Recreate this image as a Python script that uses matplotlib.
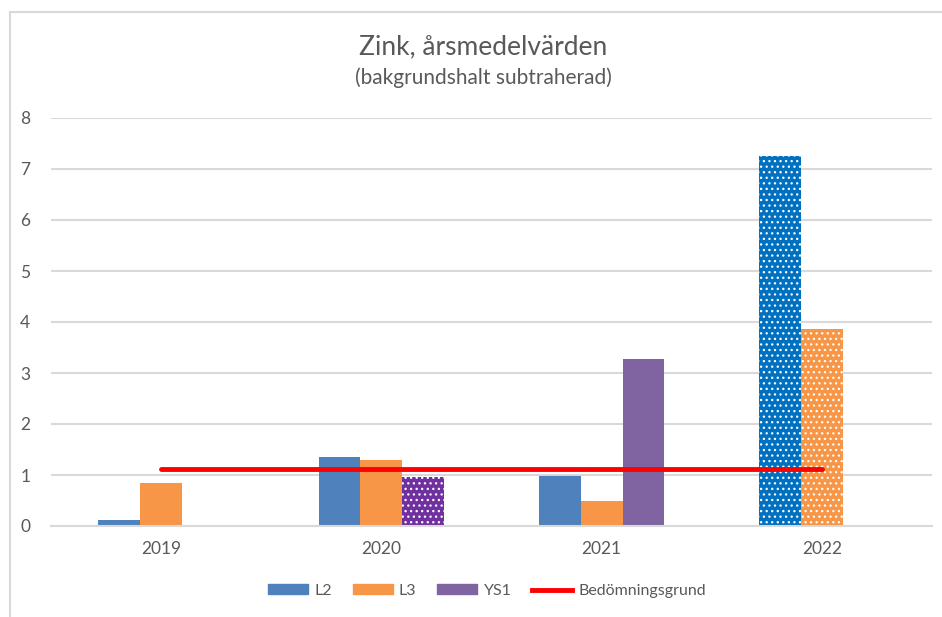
import numpy as np
import matplotlib.pyplot as plt
from matplotlib.patches import Patch, Rectangle
from matplotlib.lines import Line2D

plt.rcParams['font.family'] = ['Lato', 'DejaVu Sans']
plt.rcParams['hatch.linewidth'] = 0.9

years = ['2019', '2020', '2021', '2022']
l2 = [0.12, 1.35, 0.98, 7.25]
l3 = [0.84, 1.29, 0.50, 3.87]
ys1 = [np.nan, 0.96, 3.28, np.nan]
bedomning = [1.11, 1.11, 1.11, 1.11]

# which bars are drawn with a dotted pattern (series, year index)
dotted = {('L2', 3): '#0070C0', ('L3', 3): '#F79646', ('YS1', 1): '#7030A0'}

colors = {'L2': '#4F81BD', 'L3': '#F79646', 'YS1': '#8064A2'}
text_col = '#595959'

fig = plt.figure(figsize=(9.42, 6.17), dpi=100)
ax = fig.add_axes([51 / 942, 1 - 526 / 617, 881 / 942, 408 / 617])

# outer chart frame
fig.patches.append(Rectangle((10 / 942, -0.1), 1.2, 1 - 12 / 617 + 0.1,
                             transform=fig.transFigure, fill=False,
                             edgecolor='#D9D9D9', linewidth=1.5, zorder=0))

x = np.arange(len(years))
w = 0.19
for i, (name, vals) in enumerate([('L2', l2), ('L3', l3), ('YS1', ys1)]):
    bars = ax.bar(x + (i - 1) * w, vals, width=w, color=colors[name],
                  edgecolor='none', zorder=2)
    for j, b in enumerate(bars):
        if (name, j) in dotted:
            b.set_facecolor(dotted[(name, j)])
            b.set_hatch('...')
            b.set_edgecolor('white')
            b.set_linewidth(0)

ax.plot(x, bedomning, color='#FF0000', linewidth=3.5, solid_capstyle='round', zorder=3)

ax.set_xlim(-0.5, 3.5)
ax.set_ylim(0, 8)
ax.set_xticks(x)
ax.set_xticklabels(years)
ax.set_yticks(range(0, 9))
ax.grid(axis='y', color='#D9D9D9', linewidth=1.5, zorder=0)
for s in ['top', 'right', 'left']:
    ax.spines[s].set_visible(False)
ax.spines['bottom'].set_color('#D9D9D9')
ax.spines['bottom'].set_linewidth(1.5)
ax.tick_params(length=0, labelsize=12.5, labelcolor=text_col)
ax.tick_params(axis='x', pad=11)
ax.tick_params(axis='y', pad=15)

fig.text(0.513, 1 - 47 / 617, 'Zink, årsmedelvärden', ha='center', va='center',
         fontsize=19, color=text_col)
fig.text(0.513, 1 - 78 / 617, '(bakgrundshalt subtraherad)', ha='center', va='center',
         fontsize=15, color=text_col)

handles = [Patch(color=colors['L2']), Patch(color=colors['L3']), Patch(color=colors['YS1']),
           Line2D([0], [0], color='#FF0000', linewidth=3.5)]
fig.legend(handles, ['L2', 'L3', 'YS1', 'Bedömningsgrund'], loc='center',
           bbox_to_anchor=(0.517, 1 - 591 / 617), ncol=4, frameon=False,
           fontsize=11.5, labelcolor=text_col, handlelength=2.5, handleheight=0.6,
           columnspacing=1.3, handletextpad=0.4)

fig.savefig('out.png', dpi=100)
